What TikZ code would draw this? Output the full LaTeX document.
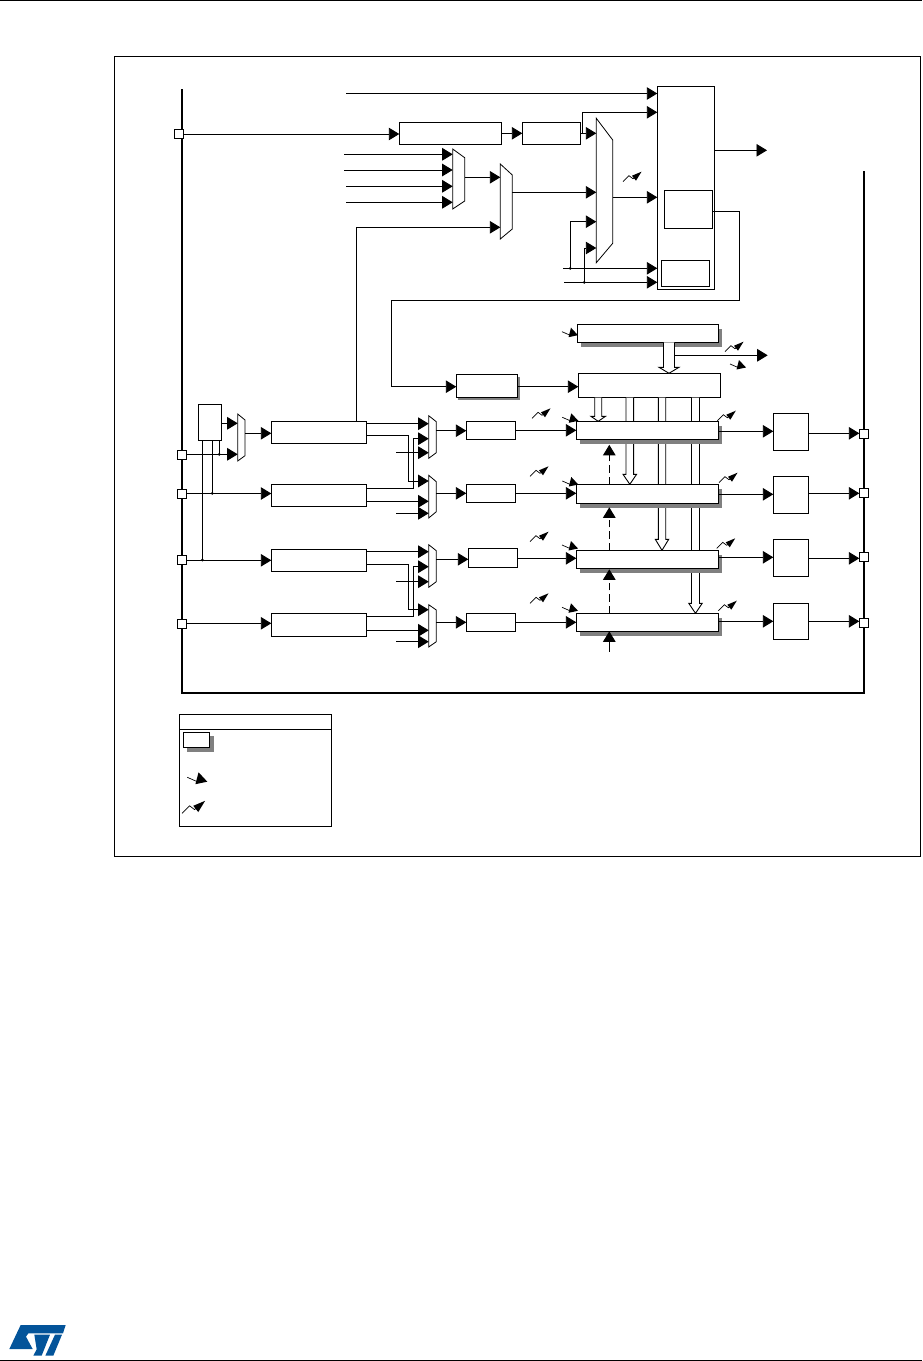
\documentclass[tikz,border=0pt]{standalone}
\usepackage{xcolor}
\usepackage{tikz}
\usetikzlibrary{arrows.meta,positioning,fit,shadows}
\definecolor{stblue}{HTML}{03549A}

\newcommand{\muxnode}[7]{%
  \draw[muxline] (#2,#4) -- (#3,#5) -- (#3,#6) -- (#2,#7) -- cycle;
  \node[fit={(#2,#4) (#3,#7)}, inner sep=0pt, outer sep=0pt] (#1) {};}
% from, to, x, half stem, half head, head length
\newcommand{\fatarrow}[6]{%
  \begin{scope}[shift={(#2 -| #3,0)}]
    \draw[fatline] (#1 -| -#4,0) -- (-#4,-#6) -- (-#5,-#6) -- (0,0) -- (#5,-#6) -- (#4,-#6) -- (#1 -| #4,0);
  \end{scope}}

\begin{document}
\begin{tikzpicture}[x=1pt, y=-1pt,
      box/.style={draw, line width=0.9pt, fill=white, anchor=north west,
                  inner sep=0pt, outer sep=0pt},
      regbox/.style={box, drop shadow={shadow xshift=3.5pt, shadow yshift=-5pt,
                  fill=black!50, opacity=1}},
      smallbox/.style={box, drop shadow={shadow xshift=2pt, shadow yshift=-2.5pt,
                  fill=black!50, opacity=1}},
      pad/.style={draw, line width=0.9pt, fill=white, minimum size=9.4pt,
                  inner sep=0pt, outer sep=0pt},
      dot/.style={circle, fill=black, inner sep=0pt, minimum size=3pt},
      muxline/.style={draw, line width=0.8pt, fill=white},
      arr/.style={-{Triangle[length=10.5pt, width=12.5pt]}, line width=0.9pt},
      dasharr/.style={arr, dash pattern=on 7.5pt off 4pt},
      fatline/.style={draw, line width=0.9pt, fill=white},
      zapicon/.pic={
        \draw[line width=0.7pt] (0,0) -- (6,-6) -- (10,-3) -- (14,-6);
        \fill (18.5,-10) -- (9,-6) -- (13,-1) -- cycle;},
      dropicon/.pic={
        \draw[line width=0.7pt] (0,0) -- (8,3.5);
        \fill (9,-4) -- (6.5,5.5) -- (16,3.5) -- cycle;}]
    \useasboundingbox (0,0) rectangle (922,1361);

    % page rules and outer frame
    \draw[line width=1pt] (0,0.5) -- (922,0.5);
    \draw[line width=1pt] (0,1360) -- (922,1360);
    \draw[line width=0.9pt] (114.4,56.6) rectangle (920.5,856);
    \draw[line width=2pt] (182,89) -- (182,692.5) -- (864,692.5) -- (864,171);

    % clock part
    \node[box, minimum width=102pt, minimum height=22pt] (psc) at (399.3,122.3) {};
    \node[box, minimum width=58pt, minimum height=22pt, right=21pt of psc] (ckdiv) {};
    \node[box, minimum width=57.2pt, minimum height=203pt] (ctrl) at (657.3,86.3) {};
    \node[box, minimum width=48pt, minimum height=38pt] (trg) at (664.3,190.3) {};
    \node[box, minimum width=48pt, minimum height=26pt] (enc) at (661.3,260.3) {};
    \muxnode{msel}{452.7}{464.7}{149}{157.7}{201}{209}
    \muxnode{mext}{500.3}{512.3}{164}{175}{229}{239}
    \muxnode{mclk}{596.3}{612.7}{118.3}{140}{243.3}{262.7}
    \node[pad] (ptop) at (179,134) {};

    \coordinate (ftop) at (346,93.5);
    \draw[arr] (ftop) -- (ctrl.west |- ftop);
    \draw[arr] (ptop) -- (psc.west |- ptop);
    \draw[arr] (psc) -- (ckdiv);
    \draw[arr] (ckdiv.east) -- (mclk.west |- ckdiv.east);
    \draw[arr] (582.3,133.3) |- (ctrl.west |- 0,112.3);
    \foreach \x/\y in {344/154.3, 344/170, 346/186.3, 346/202.3}
      \draw[arr] (\x,\y) -- (msel.west |- 0,\y);
    \draw[arr] (msel.east |- 0,177.3) -- (mext.west |- 0,177.3);
    \draw[arr] (mext.east |- 0,192.3) -- (mclk.west |- 0,192.3);
    \draw[arr] (mclk.east |- 0,197.3) -- (ctrl.west |- 0,197.3);
    \draw[arr] (ctrl.east |- 0,150.3) -- (767,150.3);

    \coordinate (fcha) at (563,268.3);
    \coordinate (fchb) at (564,282.3);
    \node[dot] (da) at (570.3,268.3) {};
    \node[dot] (db) at (584.3,282.3) {};
    \draw[arr] (fcha) -- (ctrl.west |- fcha);
    \draw[arr] (fchb) -- (ctrl.west |- fchb);
    \draw[arr] (da.center) |- (mclk.west |- 0,221.7);
    \draw[arr] (db.center) |- (mclk.west |- 0,248);

    % repetition and counter registers
    \node[smallbox, minimum width=61.4pt, minimum height=23.4pt] (rcnt) at (456.3,374.3) {};
    \node[box, minimum width=142pt, minimum height=24.4pt] (cnt) at (578.3,373.3) {};
    \node[regbox, minimum width=141.4pt, minimum height=18pt] (arrg) at (577.3,324.3) {};
    \draw[arr] (rcnt.east |- 0,386.7) -- (cnt.west |- 0,386.7);
    \draw[arr] (trg.east |- 0,211.3) -- (739.3,211.3) -- (739.3,300.3)
      -- (391.7,300.3) |- (rcnt.west |- 0,386.7);
    \draw[arr] (674.3,355.3) -- (767.7,355.3);

    % big arrows from the counter
    \coordinate (tone) at (0,421.3);
    \coordinate (ttwo) at (0,484.3);
    \coordinate (tthree) at (0,550.3);
    \coordinate (tfour) at (0,613.3);
    \fatarrow{arrg.south}{cnt.north}{669}{5.5}{10}{6}
    \fatarrow{cnt.south}{tone}{598.2}{3.5}{7.3}{5}
    \fatarrow{cnt.south}{ttwo}{629.8}{3.8}{6.8}{10}
    \fatarrow{cnt.south}{tthree}{662}{3.7}{6.7}{11}
    \fatarrow{cnt.south}{tfour}{695.5}{4}{6.7}{10}

    % capture compare channels
    \node[regbox, minimum width=142pt, minimum height=18pt] (kone) at (576.3,421.3) {};
    \node[regbox, minimum width=142pt, minimum height=19pt] (ktwo) at (576.3,484.3) {};
    \node[regbox, minimum width=142pt, minimum height=18pt] (kthree) at (576.3,550.3) {};
    \node[regbox, minimum width=142pt, minimum height=18pt] (kfour) at (576.3,613.3) {};

    \node[box, minimum width=23.4pt, minimum height=36.4pt] (xorb) at (198.3,404.3) {};
    \muxnode{mzero}{237.7}{245}{414}{420}{455.7}{461}
    \node[box, minimum width=95.4pt, minimum height=22pt] (hone) at (271.3,421.3) {};
    \node[box, minimum width=95.4pt, minimum height=22pt] (htwo) at (271.3,484.3) {};
    \node[box, minimum width=95.4pt, minimum height=22pt] (hthree) at (271.3,549.3) {};
    \node[box, minimum width=95.4pt, minimum height=23pt] (hfour) at (271.3,613.3) {};
    \muxnode{mone}{428.7}{436.3}{415.7}{421.7}{452.7}{458.3}
    \muxnode{mtwo}{428.7}{436.3}{475.3}{481.7}{511.7}{518}
    \muxnode{mthree}{428.7}{436.3}{544.7}{550.7}{581.7}{587.3}
    \muxnode{mfour}{428.7}{436.3}{604.7}{610}{641.7}{647}
    \node[box, minimum width=49.4pt, minimum height=18pt] (jone) at (466.3,421.3) {};
    \node[box, minimum width=49.4pt, minimum height=18pt] (jtwo) at (466.3,484.3) {};
    \node[box, minimum width=49.4pt, minimum height=19pt] (jthree) at (468.3,548.3) {};
    \node[box, minimum width=49.4pt, minimum height=18pt] (jfour) at (466.3,613.3) {};
    \node[box, minimum width=35pt, minimum height=37pt] (lone) at (773.3,413.3) {};
    \node[box, minimum width=35pt, minimum height=37pt] (ltwo) at (773.3,476.3) {};
    \node[box, minimum width=35pt, minimum height=37pt] (lthree) at (773.3,539.3) {};
    \node[box, minimum width=35pt, minimum height=36pt] (lfour) at (773.3,603.3) {};

    \node[pad] (pone) at (182,455) {};
    \node[pad] (ptwo) at (182,494) {};
    \node[pad] (pthree) at (182,560) {};
    \node[pad] (pfour) at (182,624) {};
    \node[pad] (qone) at (864,434) {};
    \node[pad] (qtwo) at (864,493) {};
    \node[pad] (qthree) at (864,557) {};
    \node[pad] (qfour) at (864,622.7) {};
    \node[dot] (xa) at (219.3,454.3) {};
    \node[dot] (xb) at (212.3,493.3) {};
    \node[dot] (xc) at (202.3,560) {};

    \draw[line width=0.9pt] (xorb.south -| xa) -- (xa.center);
    \draw[line width=0.9pt] (xorb.south -| xb) -- (xb.center);
    \draw[line width=0.9pt] (xorb.south -| xc) -- (xc.center);
    \draw[arr] (xorb.east |- 0,423.3) -- (mzero.west |- 0,423.3);
    \draw[arr] (pone.east |- 0,454.3) -- (mzero.west |- 0,454.3);
    \draw[arr] (mzero.east |- 0,433.3) -- (hone.west |- 0,433.3);
    \draw[arr] (ptwo.east |- 0,493.5) -- (htwo.west |- 0,493.5);
    \draw[arr] (pthree.east |- 0,560.3) -- (hthree.west |- 0,560.3);
    \draw[arr] (pfour.east |- 0,623.3) -- (hfour.west |- 0,623.3);
    \draw[arr] (hone.north -| 356.3,0) |- (mext.west |- 0,227.3);

    % crossing lines between the input stages and the muxes
    \draw[arr] (hone.east |- 0,423.7) -- (mone.west |- 0,423.7);
    \draw[arr] (hone.east |- 0,435.3) -- (408.3,435.3) |- (mtwo.west |- 0,481);
    \draw[arr] (htwo.east |- 0,488.3) -- (413.3,488.3) |- (mone.west |- 0,438.7);
    \draw[arr] (396,452.7) -- (mone.west |- 0,452.7);
    \draw[arr] (htwo.east |- 0,501.3) -- (mtwo.west |- 0,501.3);
    \draw[arr] (396,513.3) -- (mtwo.west |- 0,513.3);
    \draw[arr] (hthree.east |- 0,551.7) -- (mthree.west |- 0,551.7);
    \draw[arr] (hthree.east |- 0,564.3) -- (408.3,564.3) |- (mfour.west |- 0,609.7);
    \draw[arr] (hfour.east |- 0,616.3) -- (413.3,616.3) |- (mthree.west |- 0,566.7);
    \draw[arr] (396,581.7) -- (mthree.west |- 0,581.7);
    \draw[arr] (hfour.east |- 0,630.3) -- (mfour.west |- 0,630.3);
    \draw[arr] (396,641.7) -- (mfour.west |- 0,641.7);

    % channel outputs
    \foreach \a/\b/\y in {mone/jone/430.7, mtwo/jtwo/493.3, mthree/jthree/559.3, mfour/jfour/622.3,
                          jone/kone/430.3, jtwo/ktwo/493.3, jthree/kthree/558.3, jfour/kfour/622.3,
                          kone/lone/431.3, ktwo/ltwo/494.3, kthree/lthree/557.3, kfour/lfour/621.3,
                          lone/qone/433.3, ltwo/qtwo/493.3, lthree/qthree/558.3, lfour/qfour/621.3}
      \draw[arr] (\a.east |- 0,\y) -- (\b.west |- 0,\y);

    % break input chain
    \coordinate (fbrk) at (609.3,651.7);
    \draw[arr] (fbrk) -- (kfour.south -| fbrk);
    \draw[dasharr, shorten >=1pt] (kfour.north -| fbrk) -- (kthree.south -| fbrk);
    \draw[dasharr, shorten >=4pt] (kthree.north -| fbrk) -- (ktwo.south -| fbrk);
    \draw[dasharr, shorten >=5.5pt] (ktwo.north -| fbrk) -- (kone.south -| fbrk);

    % event marks
    \foreach \x/\y in {623/181.7, 725/351.7, 532/418.3, 530/476.3, 530/541.7, 530/603.3,
                       717.3/420.7, 719/482.7, 716.7/548.3, 718.3/610.7}
      \pic at (\x,\y) {zapicon};
    \foreach \x/\y in {562/331.7, 730/364, 562.3/417.3, 562.3/481, 562/545, 562/607.3}
      \pic at (\x,\y) {dropicon};

    % legend
    \node[box, minimum width=152pt, minimum height=112pt] (legend) at (179.3,714.3) {};
    \draw[line width=0.9pt] (legend.west |- 0,729.3) -- (legend.east |- 0,729.3);
    \node[box, minimum width=26.4pt, minimum height=15.4pt,
          drop shadow={shadow xshift=4pt, shadow yshift=-4pt, fill=black!50, opacity=1}] (legreg) at (183.3,732.3) {};
    \pic[scale=1.25] at (187.3,777.3) {dropicon};
    \pic[scale=1.25] at (182,813.3) {zapicon};

    % logo
    \begin{scope}[shift={(0,1300)}, x=0.3333pt, y=-0.3333pt]
      \fill[stblue] (62,75) -- (197,75) -- (189,100) -- (85,100) -- (78,110) -- (98,147) -- (28,147) -- cycle;
      \fill[stblue] (103,104) -- (150,104) -- (125,167) -- (100,167) -- (110,148) -- cycle;
      \fill[stblue] (165,104) -- (186,104) -- (160,167) -- (136,167) -- cycle;
    \end{scope}
  \end{tikzpicture}
\end{document}
